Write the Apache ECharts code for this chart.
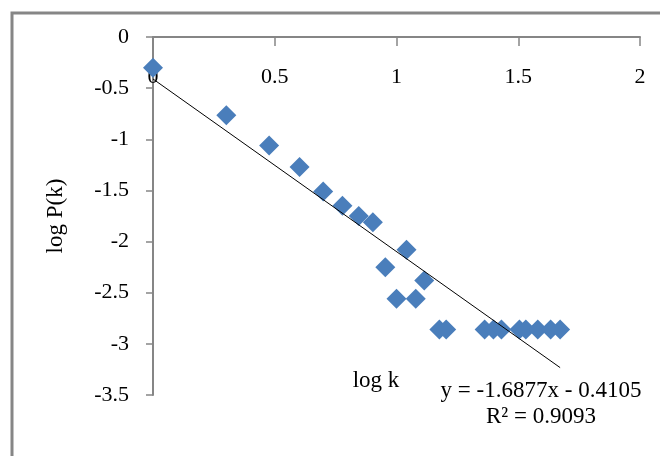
<!DOCTYPE html>
<html>
<head>
<meta charset="utf-8">
<script src="https://cdn.jsdelivr.net/npm/echarts@6/dist/echarts.min.js"></script>
<style>
html,body{margin:0;padding:0;background:#fff;}
#chart{width:660px;height:456px;}
</style>
</head>
<body>
<div id="chart"></div>
<script>
// Data (log k, log P(k))
const logK = [0, 0.301, 0.477, 0.602, 0.699, 0.778, 0.845, 0.903, 0.954, 1.0, 1.041, 1.079, 1.114,
              1.176, 1.204, 1.362, 1.398, 1.431, 1.505, 1.531, 1.580, 1.633, 1.672];
const logP = [-0.30, -0.765, -1.06, -1.27, -1.51, -1.65, -1.75, -1.81, -2.25, -2.56, -2.08, -2.56, -2.38,
              -2.86, -2.86, -2.86, -2.86, -2.86, -2.86, -2.86, -2.86, -2.86, -2.86];
const slope = -1.6877;
const intercept = -0.4105;
const eqText = 'y = -1.6877x - 0.4105';
const r2Text = 'R² = 0.9093';
const xTicks = {min: 0, max: 2, interval: 0.5};
const yTicks = {min: -3.5, max: 0, interval: 0.5};

const points = logK.map((x, i) => [x, logP[i]]);
const xMax = Math.max.apply(null, logK);
const trend = [[0, intercept], [xMax, slope * xMax + intercept]];

const serif = '"Liberation Serif", "Times New Roman", serif';
const chart = echarts.init(document.getElementById('chart'));
chart.setOption({
  animation: false,
  backgroundColor: '#fff',
  grid: {left: 153, top: 37, right: 20, bottom: 61, containLabel: false},
  xAxis: {
    type: 'value', position: 'top',
    min: xTicks.min, max: xTicks.max, interval: xTicks.interval,
    axisLine: {onZero: false, lineStyle: {color: '#868686', width: 2}},
    axisTick: {inside: true, length: 9, lineStyle: {color: '#868686', width: 1.5}},
    axisLabel: {inside: true, margin: 29, color: '#000', fontFamily: serif, fontSize: 22,
                formatter: v => String(v)},
    splitLine: {show: false}
  },
  yAxis: {
    type: 'value',
    min: yTicks.min, max: yTicks.max, interval: yTicks.interval,
    axisLine: {onZero: false, lineStyle: {color: '#868686', width: 2}},
    axisTick: {length: 7, lineStyle: {color: '#868686', width: 1.5}},
    axisLabel: {margin: 24, color: '#000', fontFamily: serif, fontSize: 22,
                formatter: v => String(v)},
    splitLine: {show: false},
    name: 'log P(k)', nameLocation: 'middle', nameGap: 86, nameRotate: 90,
    nameTextStyle: {color: '#000', fontFamily: serif, fontSize: 23}
  },
  graphic: [
    {type: 'rect', shape: {x: 12, y: 13, width: 700, height: 500},
     style: {fill: 'none', stroke: '#868686', lineWidth: 3}, silent: true},
    {type: 'text', x: 376, y: 381,
     style: {text: 'log k', font: '23px ' + serif, fill: '#000', textAlign: 'center', textVerticalAlign: 'middle'}},
    {type: 'text', x: 541, y: 391,
     style: {text: eqText, font: '23px ' + serif, fill: '#000', textAlign: 'center', textVerticalAlign: 'middle'}},
    {type: 'text', x: 541, y: 417,
     style: {text: r2Text, font: '23px ' + serif, fill: '#000', textAlign: 'center', textVerticalAlign: 'middle'}}
  ],
  series: [
    {type: 'line', data: trend, symbol: 'none', lineStyle: {color: '#000', width: 1}, z: 3},
    {type: 'scatter', data: points, symbol: 'diamond', symbolSize: 20,
     itemStyle: {color: '#4A7EBB', opacity: 1}, z: 2}
  ]
});
</script>
</body>
</html>
